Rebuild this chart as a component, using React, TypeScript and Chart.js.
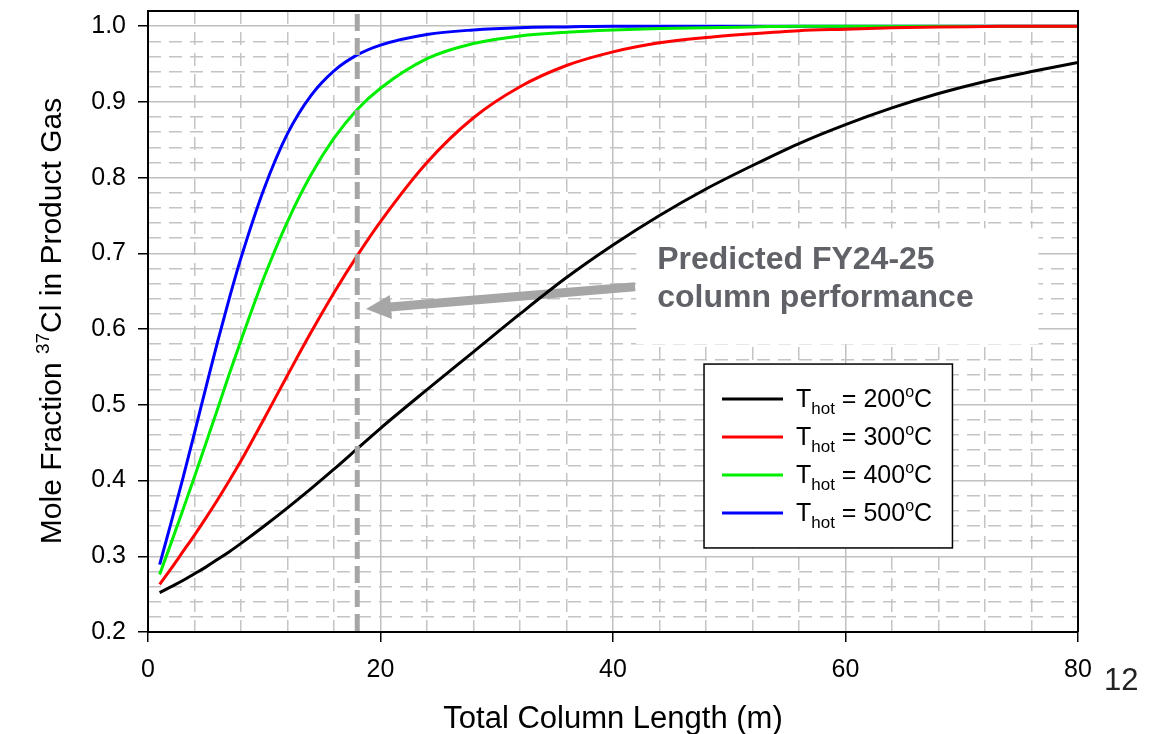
import { useEffect, useRef } from "react";
import { Chart, registerables } from "chart.js";

Chart.register(...registerables);

// ---------------- data ----------------
const lengths = [1, 2, 3, 4, 5, 6, 7, 8, 10, 12, 14, 16, 18, 20, 24, 28, 32, 36, 40, 44, 48, 52, 56, 60, 64, 68, 72, 76, 80];
const t200 = [0.252, 0.26, 0.268, 0.277, 0.286, 0.296, 0.306, 0.317, 0.34, 0.364, 0.389, 0.415, 0.442, 0.469, 0.52, 0.57, 0.62, 0.668, 0.711, 0.75, 0.785, 0.816, 0.845, 0.87, 0.892, 0.911, 0.927, 0.94, 0.952];
const t300 = [0.263, 0.284, 0.306, 0.328, 0.351, 0.375, 0.4, 0.426, 0.482, 0.539, 0.595, 0.648, 0.697, 0.742, 0.82, 0.879, 0.92, 0.948, 0.966, 0.978, 0.985, 0.99, 0.994, 0.996, 0.998, 0.999, 0.9995, 1.0, 1.0];
const t400 = [0.276, 0.318, 0.361, 0.405, 0.45, 0.495, 0.541, 0.585, 0.669, 0.742, 0.803, 0.852, 0.89, 0.918, 0.957, 0.977, 0.987, 0.992, 0.995, 0.997, 0.998, 0.999, 1.0, 1.0, 1.0, 1.0, 1.0, 1.0, 1.0];
const t500 = [0.289, 0.345, 0.403, 0.463, 0.524, 0.584, 0.641, 0.694, 0.786, 0.858, 0.908, 0.941, 0.962, 0.975, 0.989, 0.995, 0.998, 0.999, 1.0, 1.0, 1.0, 1.0, 1.0, 1.0, 1.0, 1.0, 1.0, 1.0, 1.0];
const temps = [200, 300, 400, 500];
const seriesColors = ["#000000", "#ff0000", "#00ee00", "#0000ff"];

const xMajorTicks = [0, 20, 40, 60, 80];
const xTickLabels = ["0", "20", "40", "60", "80"];
const yMajorTicks = [0.2, 0.3, 0.4, 0.5, 0.6, 0.7, 0.8, 0.9, 1.0];
const yTickLabels = ["0.2", "0.3", "0.4", "0.5", "0.6", "0.7", "0.8", "0.9", "1.0"];

const predictedLength = 18;
const annotationLines = ["Predicted FY24-25", "column performance"];
const xTitle = "Total Column Length (m)";
const pageNumber = "12";

// ---------------- helpers ----------------
const FONT = '"Liberation Sans", Arial, Helvetica, sans-serif';

const xMinorTicks: number[] = [];
for (let v = 4; v < 80; v += 4) if (v % 20 !== 0) xMinorTicks.push(v);
const yMinorTicks: number[] = [];
for (let k = 11; k <= 51; k++) if (k % 5 !== 0) yMinorTicks.push(k / 50);

type Part = { t: string; size: number; dy?: number; weight?: string };

function drawParts(ctx: CanvasRenderingContext2D, parts: Part[], x: number, y: number, align: "left" | "center") {
  const widths = parts.map((p) => {
    ctx.font = `${p.weight || "normal"} ${p.size}px ${FONT}`;
    return ctx.measureText(p.t).width;
  });
  const total = widths.reduce((a, b) => a + b, 0);
  let cx = align === "center" ? x - total / 2 : x;
  ctx.textAlign = "left";
  ctx.textBaseline = "alphabetic";
  parts.forEach((p, i) => {
    ctx.font = `${p.weight || "normal"} ${p.size}px ${FONT}`;
    ctx.fillText(p.t, cx, y + (p.dy || 0));
    cx += widths[i];
  });
}

const zeroPad = (s: any) => {
  s.paddingLeft = 0;
  s.paddingRight = 0;
  s.paddingTop = 0;
  s.paddingBottom = 0;
};

const overlayPlugin = {
  id: "overlay",
  beforeDatasetsDraw(chart: any) {
    const { ctx, scales } = chart;
    const x = scales.x;
    const y = scales.y;
    ctx.save();
    // white box behind annotation
    const bx0 = x.getPixelForValue(42.0);
    const bx1 = x.getPixelForValue(76.6);
    const by0 = y.getPixelForValue(0.733);
    const by1 = y.getPixelForValue(0.58);
    ctx.fillStyle = "#ffffff";
    ctx.fillRect(bx0, by0, bx1 - bx0, by1 - by0);

    // arrow
    const tx = x.getPixelForValue(41.9);
    const ty = y.getPixelForValue(0.656);
    const hx = x.getPixelForValue(18.75);
    const hy = y.getPixelForValue(0.6264);
    const ang = Math.atan2(hy - ty, hx - tx);
    const headLen = 25;
    const headW = 12;
    const bx = hx - headLen * Math.cos(ang);
    const by = hy - headLen * Math.sin(ang);
    ctx.strokeStyle = "#a6a6a6";
    ctx.fillStyle = "#a6a6a6";
    ctx.lineWidth = 9;
    ctx.lineCap = "butt";
    ctx.beginPath();
    ctx.moveTo(tx, ty);
    ctx.lineTo(bx + 1 * Math.cos(ang), by + 1 * Math.sin(ang));
    ctx.stroke();
    ctx.beginPath();
    ctx.moveTo(hx, hy);
    ctx.lineTo(bx + headW * Math.sin(ang), by - headW * Math.cos(ang));
    ctx.lineTo(bx - headW * Math.sin(ang), by + headW * Math.cos(ang));
    ctx.closePath();
    ctx.fill();
    ctx.restore();
  },
  afterDatasetsDraw(chart: any) {
    const { ctx, scales, chartArea } = chart;
    const x = scales.x;
    const y = scales.y;
    ctx.save();

    // dashed predicted-length marker
    const mx = x.getPixelForValue(predictedLength);
    ctx.strokeStyle = "#a6a6a6";
    ctx.lineWidth = 5;
    ctx.setLineDash([17, 7]);
    ctx.beginPath();
    ctx.moveTo(mx, chartArea.bottom - 1);
    ctx.lineTo(mx, chartArea.top + 2);
    ctx.stroke();
    ctx.setLineDash([]);

    // top & right frame
    ctx.strokeStyle = "#000";
    ctx.lineWidth = 2;
    ctx.beginPath();
    ctx.moveTo(chartArea.left, chartArea.top);
    ctx.lineTo(chartArea.right, chartArea.top);
    ctx.lineTo(chartArea.right, chartArea.bottom);
    ctx.stroke();

    // annotation text
    ctx.fillStyle = "#606267";
    const ax = x.getPixelForValue(43.8);
    drawParts(ctx, [{ t: annotationLines[0], size: 32, weight: "bold" }], ax, 269, "left");
    drawParts(ctx, [{ t: annotationLines[1], size: 32, weight: "bold" }], ax, 307, "left");

    // legend
    const lx0 = x.getPixelForValue(47.83);
    const lx1 = x.getPixelForValue(69.2);
    const ly0 = y.getPixelForValue(0.5538);
    const ly1 = y.getPixelForValue(0.311);
    ctx.fillStyle = "#fff";
    ctx.fillRect(lx0, ly0, lx1 - lx0, ly1 - ly0);
    ctx.strokeStyle = "#000";
    ctx.lineWidth = 1.5;
    ctx.strokeRect(lx0, ly0, lx1 - lx0, ly1 - ly0);
    chart.data.datasets.forEach((ds: any, i: number) => {
      const ry = ly0 + 35 + i * 38;
      ctx.strokeStyle = ds.borderColor;
      ctx.lineWidth = 3;
      ctx.beginPath();
      ctx.moveTo(lx0 + 18, ry);
      ctx.lineTo(lx0 + 79, ry);
      ctx.stroke();
      ctx.fillStyle = "#000";
      drawParts(
        ctx,
        [
          { t: "T", size: 25 },
          { t: "hot", size: 17, dy: 7 },
          { t: ` = ${temps[i]}`, size: 25 },
          { t: "o", size: 16, dy: -10 },
          { t: "C", size: 25 },
        ],
        lx0 + 92,
        ry + 8,
        "left"
      );
    });

    // y-axis title with superscript
    ctx.fillStyle = "#000";
    ctx.save();
    ctx.translate(61, 321);
    ctx.rotate(-Math.PI / 2);
    drawParts(
      ctx,
      [
        { t: "Mole Fraction ", size: 30 },
        { t: "37", size: 19, dy: -12 },
        { t: "Cl in Product Gas", size: 30 },
      ],
      0,
      0,
      "center"
    );
    ctx.restore();

    // page number
    ctx.fillStyle = "#222";
    drawParts(ctx, [{ t: pageNumber, size: 31 }], 1104, 690, "left");

    ctx.restore();
  },
};

export default function App() {
  const ref = useRef<HTMLCanvasElement | null>(null);

  useEffect(() => {
    if (!ref.current) return;
    const series = [t200, t300, t400, t500];
    const chart = new Chart(ref.current, {
      type: "line",
      data: {
        datasets: series.map((s, i) => ({
          label: `T_hot = ${temps[i]}°C`,
          data: lengths.map((lx, j) => ({ x: lx, y: s[j] })),
          borderColor: seriesColors[i],
          backgroundColor: seriesColors[i],
          borderWidth: 3,
          pointRadius: 0,
          cubicInterpolationMode: "monotone",
          fill: false,
          xAxisID: "x",
          yAxisID: "y",
        })),
      },
      options: {
        animation: false,
        responsive: false,
        devicePixelRatio: 1,
        layout: { padding: { left: 0, top: 11, right: 72, bottom: 0 } },
        plugins: {
          legend: { display: false },
          tooltip: { enabled: false },
          title: { display: false },
        },
        scales: {
          x: {
            type: "linear",
            position: "bottom",
            min: 0,
            max: 80,
            afterBuildTicks: (s: any) => {
              s.ticks = xMajorTicks.map((v) => ({ value: v }));
            },
            afterFit: (s: any) => {
              s.height = 102;
              zeroPad(s);
            },
            ticks: {
              autoSkip: false,
              maxRotation: 0,
              color: "#000",
              padding: 13,
              font: { family: FONT, size: 25 },
              callback: (v: any) => xTickLabels[xMajorTicks.indexOf(Number(v))] ?? "",
            },
            grid: { color: "#c0c0c0", lineWidth: 1.5, tickColor: "#000", tickWidth: 1.5, tickLength: 10 },
            border: { color: "#000", width: 2 },
            title: {
              display: true,
              text: xTitle,
              color: "#000",
              font: { family: FONT, size: 31, lineHeight: 0.95 },
              padding: { top: 0, bottom: 0 },
            },
          },
          xMinor: {
            type: "linear",
            position: "bottom",
            min: 0,
            max: 80,
            afterBuildTicks: (s: any) => {
              s.ticks = xMinorTicks.map((v) => ({ value: v }));
            },
            afterFit: (s: any) => {
              s.height = 0;
              zeroPad(s);
            },
            ticks: { display: false },
            grid: { color: "#c4c4c4", lineWidth: 1.5, drawTicks: false },
            border: { display: false, dash: [13, 8] },
          },
          y: {
            type: "linear",
            position: "left",
            min: 0.2,
            max: 1.02,
            afterBuildTicks: (s: any) => {
              s.ticks = yMajorTicks.map((v) => ({ value: v }));
            },
            afterFit: (s: any) => {
              s.width = 148;
              zeroPad(s);
            },
            ticks: {
              color: "#000",
              padding: 12,
              font: { family: FONT, size: 25 },
              callback: (v: any) => {
                const idx = yMajorTicks.findIndex((t) => Math.abs(t - Number(v)) < 1e-6);
                return idx >= 0 ? yTickLabels[idx] : "";
              },
            },
            grid: { color: "#c0c0c0", lineWidth: 1.5, tickColor: "#000", tickWidth: 1.5, tickLength: 10 },
            border: { color: "#000", width: 2 },
          },
          yMinor: {
            type: "linear",
            position: "left",
            min: 0.2,
            max: 1.02,
            afterBuildTicks: (s: any) => {
              s.ticks = yMinorTicks.map((v) => ({ value: v }));
            },
            afterFit: (s: any) => {
              s.width = 0;
              zeroPad(s);
            },
            ticks: { display: false },
            grid: { color: "#c4c4c4", lineWidth: 1.5, drawTicks: false },
            border: { display: false, dash: [13, 8] },
          },
        },
      } as any,
      plugins: [overlayPlugin as any],
    });
    return () => chart.destroy();
  }, []);

  return (
    <div style={{ position: "absolute", left: 0, top: 0, width: 1150, height: 734, background: "#fff" }}>
      <canvas ref={ref} width={1150} height={734} style={{ display: "block", width: 1150, height: 734 }} />
    </div>
  );
}
